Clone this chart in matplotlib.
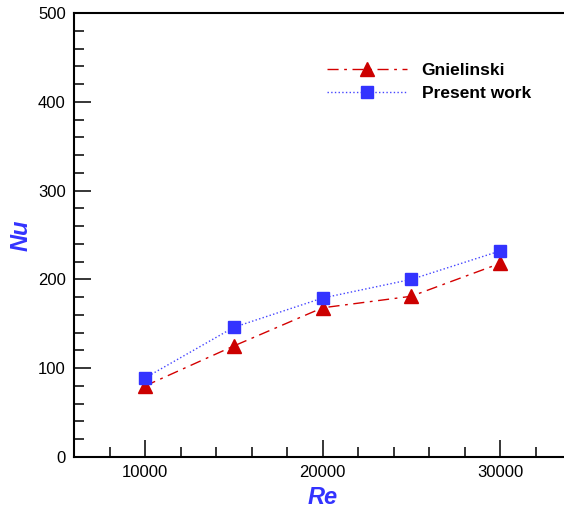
import matplotlib
matplotlib.use("Agg")
import matplotlib.pyplot as plt
from matplotlib.ticker import MultipleLocator

plt.rcParams['font.family'] = ['Liberation Sans', 'DejaVu Sans']

re_vals = [10000, 15000, 20000, 25000, 30000]
gnielinski = [80, 125, 168, 181, 218]
present = [89, 146, 179, 200, 232]

W, H = 564, 509
fig = plt.figure(figsize=(W/100, H/100), dpi=100)
left, right, top, bottom = 74, 571, 13, 457
ax = fig.add_axes([left/W, 1-bottom/H, (right-left)/W, (bottom-top)/H])

ax.plot(re_vals, gnielinski, color='#d40000', linestyle='-.', linewidth=1.0,
        dashes=(8, 4, 2, 4), marker='^', markersize=9.5, markerfacecolor='#cc0000',
        markeredgecolor='#cc0000', label='Gnielinski')
ax.plot(re_vals, present, color='#4444ff', linestyle=':', linewidth=1.0,
        marker='s', markersize=8.5, markerfacecolor='#3333ff',
        markeredgecolor='#3333ff', label='Present work')

ax.set_xlim(6000, 34000)
ax.set_ylim(0, 500)
ax.xaxis.set_major_locator(MultipleLocator(10000))
ax.xaxis.set_minor_locator(MultipleLocator(2000))
ax.yaxis.set_major_locator(MultipleLocator(100))
ax.yaxis.set_minor_locator(MultipleLocator(20))
ax.tick_params(which='both', direction='in', top=False, right=False, width=1.1,
               labelsize=12)
ax.tick_params(which='major', length=12, pad=6)
ax.tick_params(which='minor', length=7)
for s in ax.spines.values():
    s.set_linewidth(1.5)

ax.set_xlabel('Re', fontsize=17, fontweight='bold', fontstyle='italic',
              color='#3333ff', labelpad=4)
ax.set_ylabel('Nu', fontsize=17, fontweight='bold', fontstyle='italic',
              color='#3333ff', labelpad=4)

leg = ax.legend(loc='upper left', bbox_to_anchor=((327-left)/(right-left), 1-(63-top)/(bottom-top)),
                frameon=False, prop={'weight': 'bold', 'size': 12.5},
                handlelength=4.6, handletextpad=0.85, labelspacing=0.42,
                borderaxespad=0, borderpad=0)

fig.savefig('out.png', dpi=100)
